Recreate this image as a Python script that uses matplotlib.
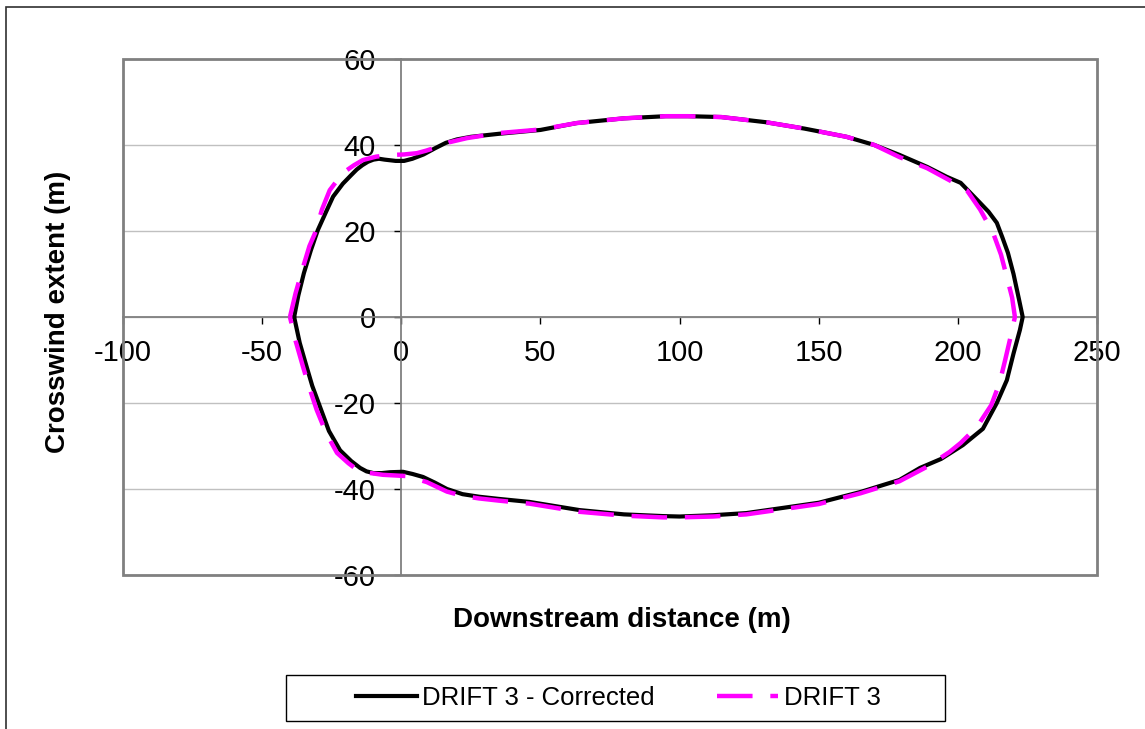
import matplotlib
matplotlib.use("Agg")
import matplotlib.pyplot as plt
from matplotlib.patches import Rectangle
from matplotlib.lines import Line2D

plt.rcParams["font.family"] = ["Liberation Sans", "DejaVu Sans"]

# DRIFT 3 - Corrected (black), upper half left->right, lower half right->left
corr_upper_x = [-38.5, -37, -35, -32.5, -30, -27, -24.5, -21, -18, -16, -14, -12, -10, -8, -6, -2,
                1, 4, 8, 12, 16, 20, 25, 35, 50, 63, 80, 95, 103, 115, 131, 145, 160, 170, 179,
                189, 196, 201, 207, 211, 214, 216, 218, 220, 222, 223.3]
corr_upper_y = [0, 5, 10.2, 15.5, 20.2, 24.5, 28, 31, 33, 34.3, 35.3, 36.1, 36.6, 36.8, 36.6, 36.3,
                36.3, 36.8, 37.8, 39.2, 40.5, 41.3, 41.9, 42.6, 43.5, 45.1, 46.2, 46.7, 46.7,
                46.5, 45.3, 43.8, 41.9, 40, 37.7, 34.9, 32.6, 31.2, 27.2, 24.5, 21.9, 18.5, 14.9,
                10, 4, 0]
corr_lower_x = [222.3, 220, 217.6, 214, 209, 201.8, 194, 186.4, 179, 165, 150, 136, 124, 112, 100,
                94, 80, 64, 46, 35, 28, 22, 16.4, 12, 7.8, 4, 0.6, -4, -7, -10, -12.5, -14.8, -18,
                -22, -26, -29.2, -32, -34, -36.5, -38.5]
corr_lower_y = [-3, -8.5, -14.7, -20, -26, -29.8, -33, -35.1, -37.9, -40.7, -43.2, -44.5, -45.6,
                -46.1, -46.4, -46.3, -45.9, -44.9, -43, -42.3, -41.8, -41.2, -40, -38.5, -37.2,
                -36.5, -36, -36.1, -36.3, -36.3, -35.9, -35.1, -33.5, -31, -26.5, -20.9, -16,
                -11.6, -6, 0]

# DRIFT 3 (magenta dashed)
drift_upper_x = [-40, -38, -35.3, -33, -31, -28.5, -25.7, -23, -21, -17, -13.8, -9, -3, 1, 5.6, 9,
                 12.8, 17, 23.6, 35.5, 50, 63, 80, 95, 103, 115, 131, 145, 160, 170, 179, 189,
                 197, 203.2, 208, 212.7, 215.5, 217.6, 219.5, 220.5]
drift_upper_y = [0, 5.5, 11.6, 16.5, 19.5, 25, 29.5, 31.8, 33.5, 35.3, 36.5, 37.3, 37.7, 37.8,
                 38.1, 38.7, 39.5, 40.6, 41.6, 42.8, 43.6, 45.1, 46.2, 46.7, 46.7, 46.5, 45.3,
                 43.8, 41.9, 40, 37.2, 34.6, 31.8, 29.5, 25, 19.5, 14.5, 9.3, 4.5, 0]
drift_lower_x = [218.7, 217, 215, 212, 206.8, 201, 197, 189, 179, 165, 150, 136, 124, 112, 100, 94,
                 80, 64, 46, 35, 28, 22, 16.4, 9.2, 2, -6.6, -11, -14.9, -19, -23.1, -27, -30.4,
                 -33, -35.3, -38, -40]
drift_lower_y = [-5.3, -10, -15.3, -20.5, -25.6, -29.3, -31.4, -34.8, -38.2, -41, -43.5, -44.8,
                 -45.9, -46.4, -46.6, -46.6, -46.2, -45.3, -43.4, -42.7, -42.2, -41.6, -40.6,
                 -38.4, -37, -36.7, -36.3, -36, -34, -31.6, -27, -21.6, -16.5, -11.6, -5.5, 0]

x_ticks = [-100, -50, 0, 50, 100, 150, 200, 250]
y_ticks = [-60, -40, -20, 0, 20, 40, 60]

W, H = 1145, 729
fig = plt.figure(figsize=(W / 100, H / 100), dpi=100)
fig.patch.set_facecolor("white")

# outer chart frame (cropped at right/bottom)
fig.add_artist(Rectangle((6 / W, -0.2), 2.0, 1.2 - 7 / H, transform=fig.transFigure,
                         fill=False, edgecolor="#303030", linewidth=1.2))

ax = fig.add_axes([123 / W, 154 / H, 974 / W, 516 / H])
ax.set_xlim(-100, 250)
ax.set_ylim(-60, 60)

ax.plot(corr_upper_x + corr_lower_x, corr_upper_y + corr_lower_y, color="black",
        linewidth=3.0, zorder=3, solid_joinstyle="round", label="DRIFT 3 - Corrected")
ax.plot(drift_upper_x + drift_lower_x, drift_upper_y + drift_lower_y, color="#FF00FF",
        linewidth=3.2, dashes=(8, 4), zorder=4, label="DRIFT 3")

# axes crossing at zero, Excel style
for s in ("top", "right"):
    ax.spines[s].set_visible(False)
ax.spines["left"].set_position(("data", 0))
ax.spines["bottom"].set_position(("data", 0))
for s in ("left", "bottom"):
    ax.spines[s].set_color("#808080")
    ax.spines[s].set_linewidth(1.3)
ax.add_patch(Rectangle((0, 0), 1, 1, transform=ax.transAxes, fill=False,
                       edgecolor="#808080", linewidth=2.0, clip_on=False, zorder=5))

ax.set_xticks(x_ticks)
ax.set_yticks(y_ticks)
ax.set_xticklabels([str(v) for v in x_ticks])
ax.set_yticklabels([str(v) for v in y_ticks])
ax.tick_params(axis="x", direction="out", length=5, width=1, color="black",
               labelsize=21, pad=11)
ax.tick_params(axis="y", direction="out", length=5, width=1, color="black",
               labelsize=21, pad=13.5)
ax.yaxis.grid(True, color="#C0C0C0", linewidth=1.0)
ax.set_axisbelow(True)

fig.text(58 / W, 1 - 312 / H, "Crosswind extent (m)", rotation=90, ha="center", va="center",
         fontsize=20, fontweight="bold")
fig.text(622 / W, 1 - 620 / H, "Downstream distance (m)", ha="center", va="center",
         fontsize=20, fontweight="bold")

# legend box
fig.add_artist(Rectangle((286 / W, 1 - 721 / H), (945 - 286) / W, 46 / H,
                         transform=fig.transFigure, fill=False, edgecolor="black",
                         linewidth=1.0))
handles = [Line2D([], [], color="black", linewidth=3.0),
           Line2D([], [], color="#FF00FF", linewidth=3.2, dashes=(8, 4))]
fig.legend(handles, ["DRIFT 3 - Corrected", "DRIFT 3"], loc="center",
           bbox_to_anchor=(618 / W, 1 - 698 / H), ncol=2, frameon=False, fontsize=18.5,
           handlelength=2.4, handletextpad=0.2, columnspacing=2.4)

fig.savefig("out.png", dpi=100)
